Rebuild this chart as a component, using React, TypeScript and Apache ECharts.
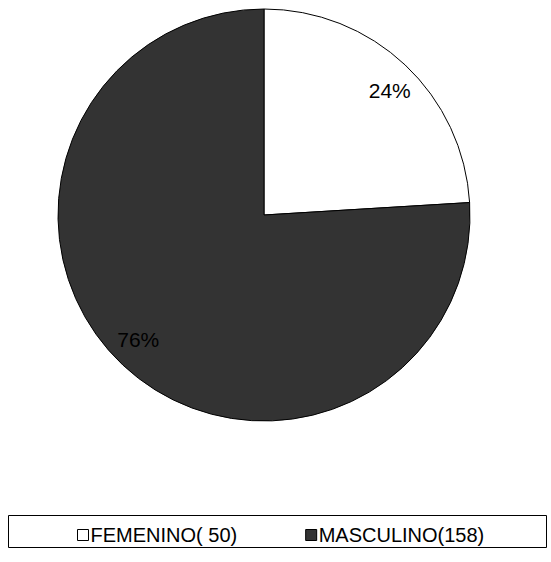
import { useEffect, useRef } from "react";
import * as echarts from "echarts";

const categories = ["FEMENINO( 50)", "MASCULINO(158)"];
const counts = [50, 158];
const sliceColors = ["#ffffff", "#333333"];

export default function App() {
  const chartRef = useRef<HTMLDivElement>(null);

  useEffect(() => {
    document.body.style.margin = "0";
    if (!chartRef.current) return;
    const chart = echarts.init(chartRef.current, null, { renderer: "svg" });
    const total = counts.reduce((a, b) => a + b, 0);
    const data = categories.map((name, i) => ({
      name,
      value: counts[i],
      itemStyle: { color: sliceColors[i] },
    }));

    chart.setOption({
      animation: false,
      backgroundColor: "#ffffff",
      textStyle: { fontFamily: "Liberation Sans, Arial, sans-serif" },
      graphic: [
        {
          type: "rect",
          shape: { x: 8.5, y: 515.5, width: 538, height: 32 },
          style: { fill: "none", stroke: "#000", lineWidth: 1 },
          silent: true,
        },
      ],
      legend: {
        data: categories,
        top: 520,
        left: 72,
        itemWidth: 11,
        itemHeight: 11,
        itemGap: 68,
        icon: "rect",
        selectedMode: false,
        textStyle: {
          fontSize: 20,
          color: "#000",
          padding: [0, 0, 0, -3],
          fontFamily: "Liberation Sans, Arial, sans-serif",
        },
        itemStyle: { borderColor: "#000", borderWidth: 1 },
      },
      series: [
        {
          type: "pie",
          center: [264, 215],
          radius: [0, 206],
          startAngle: 90,
          clockwise: true,
          silent: true,
          data,
          label: { show: false },
          labelLine: { show: false },
          itemStyle: { borderColor: "#000", borderWidth: 1 },
        },
        {
          // transparent overlay only used to place the percent labels
          type: "pie",
          center: [264, 215],
          radius: [0, 348],
          startAngle: 88,
          clockwise: true,
          silent: true,
          legendHoverLink: false,
          data: categories.map((name, i) => ({
            name: name + " ",
            value: counts[i],
          })),
          itemStyle: { color: "rgba(0,0,0,0)", borderWidth: 0 },
          label: {
            show: true,
            position: "inside",
            fontSize: 21,
            color: "#000",
            fontFamily: "Liberation Sans, Arial, sans-serif",
            formatter: (p: any) => `${Math.round((p.value / total) * 100)}%`,
          },
          labelLine: { show: false },
        },
      ],
    });

    return () => chart.dispose();
  }, []);

  return <div ref={chartRef} style={{ width: 551, height: 562 }} />;
}
